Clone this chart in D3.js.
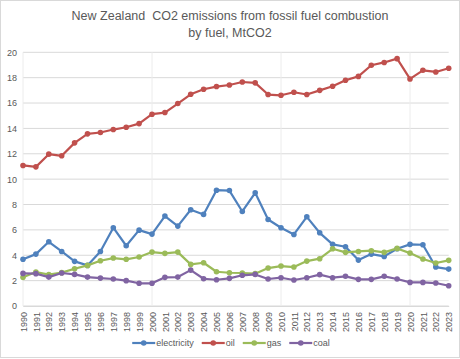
<!DOCTYPE html>
<html><head><meta charset="utf-8">
<script src="https://cdn.jsdelivr.net/npm/d3@7"></script>
<style>body{margin:0;background:#fff}svg{display:block;font-family:"Liberation Sans",Arial,sans-serif}</style>
</head><body><svg id="c" width="460" height="359"></svg>
<script>
const years = d3.range(1990, 2024).map(String);
const electricity = [3.68,4.09,5.06,4.3,3.52,3.2,4.3,6.17,4.75,5.98,5.67,7.09,6.3,7.59,7.22,9.13,9.1,7.45,8.92,6.82,6.17,5.64,7.03,5.77,4.86,4.67,3.62,4.09,3.91,4.51,4.86,4.83,3.07,2.91];
const oil = [11.08,10.97,11.97,11.84,12.86,13.57,13.68,13.91,14.09,14.38,15.12,15.25,15.96,16.69,17.09,17.3,17.42,17.66,17.59,16.67,16.61,16.85,16.67,17.0,17.32,17.8,18.1,18.98,19.2,19.5,17.9,18.58,18.45,18.74];
const gas = [2.26,2.68,2.47,2.63,2.94,3.2,3.57,3.78,3.68,3.86,4.25,4.15,4.25,3.28,3.41,2.7,2.62,2.6,2.55,2.99,3.15,3.07,3.54,3.73,4.51,4.23,4.3,4.36,4.23,4.54,4.17,3.7,3.39,3.6];
const coal = [2.57,2.55,2.28,2.6,2.49,2.28,2.2,2.13,2.0,1.79,1.79,2.26,2.28,2.83,2.15,2.07,2.18,2.42,2.49,2.13,2.23,2.05,2.23,2.47,2.23,2.34,2.1,2.1,2.34,2.13,1.86,1.86,1.81,1.6];
const seriesNames = ["electricity","oil","gas","coal"];
const colors = ["#4F81BD","#C0504D","#9BBB59","#8064A2"];
const yTicks = [0,2,4,6,8,10,12,14,16,18,20];
const titleLines = ["New Zealand  CO2 emissions from fossil fuel combustion","by fuel, MtCO2"];

const svg = d3.select("#c");
svg.append("rect").attr("x",0.5).attr("y",0.5).attr("width",459).attr("height",357)
  .attr("fill","#fff").attr("stroke","#d9d9d9");

const x = d3.scalePoint().domain(years).range([23, 448.7]);
const y = d3.scaleLinear().domain([0,20]).range([306, 52.3]);

svg.append("g").selectAll("line").data(yTicks).join("line")
  .attr("x1",23).attr("x2",448.7).attr("y1",d=>y(d)).attr("y2",d=>y(d))
  .attr("stroke","#d9d9d9").attr("stroke-width",1);
svg.append("g").selectAll("line").data(years.filter(d=>+d%10===0)).join("line")
  .attr("x1",d=>x(d)).attr("x2",d=>x(d)).attr("y1",y(20)).attr("y2",y(0))
  .attr("stroke","#ececec").attr("stroke-width",1);

const ya = svg.append("g").attr("transform","translate(17,0)")
  .call(d3.axisLeft(y).tickValues(yTicks).tickSize(0).tickPadding(0));
ya.select(".domain").remove();
ya.selectAll("text").attr("fill","#595959").style("font-size","9px");

const xa = svg.append("g").attr("transform",`translate(0,${y(0)})`)
  .call(d3.axisBottom(x).tickSize(0).tickPadding(0));
xa.select(".domain").attr("stroke","#d9d9d9");
xa.selectAll("text").attr("fill","#595959").style("font-size","9px")
  .attr("transform","rotate(-90)").attr("text-anchor","end")
  .attr("x",-6).attr("y",0).attr("dy","0.35em");

const data = [electricity, oil, gas, coal];
const line = d3.line().x((d,i)=>x(years[i])).y(d=>y(d));
data.forEach((vals,k)=>{
  const g = svg.append("g");
  g.append("path").datum(vals).attr("d",line).attr("fill","none")
    .attr("stroke",colors[k]).attr("stroke-width",2.2).attr("stroke-linejoin","round");
  g.selectAll("circle").data(vals).join("circle")
    .attr("cx",(d,i)=>x(years[i])).attr("cy",d=>y(d)).attr("r",2.8).attr("fill",colors[k]);
});

svg.append("g").selectAll("text").data(titleLines).join("text")
  .attr("x",230).attr("y",(d,i)=>20+i*17).attr("text-anchor","middle")
  .attr("xml:space","preserve").style("white-space","pre")
  .attr("fill","#595959").style("font-size","12.5px").text(d=>d);

// legend, laid out by measured widths and centred
const lg = svg.append("g");
const items = seriesNames.map((n,k)=>{
  const g = lg.append("g");
  g.append("line").attr("x1",0).attr("x2",23).attr("y1",0).attr("y2",0)
    .attr("stroke",colors[k]).attr("stroke-width",2.2);
  g.append("circle").attr("cx",11.5).attr("cy",0).attr("r",2.8).attr("fill",colors[k]);
  const t = g.append("text").attr("x",24).attr("y",0).attr("dy","0.35em")
    .attr("fill","#595959").style("font-size","9px").text(n);
  return {g, w: 24 + t.node().getComputedTextLength()};
});
const gap = 8;
const total = d3.sum(items, d=>d.w) + gap*(items.length-1);
let cx = 231 - total/2;
items.forEach(it=>{ it.g.attr("transform",`translate(${cx},343)`); cx += it.w + gap; });
</script></body></html>
